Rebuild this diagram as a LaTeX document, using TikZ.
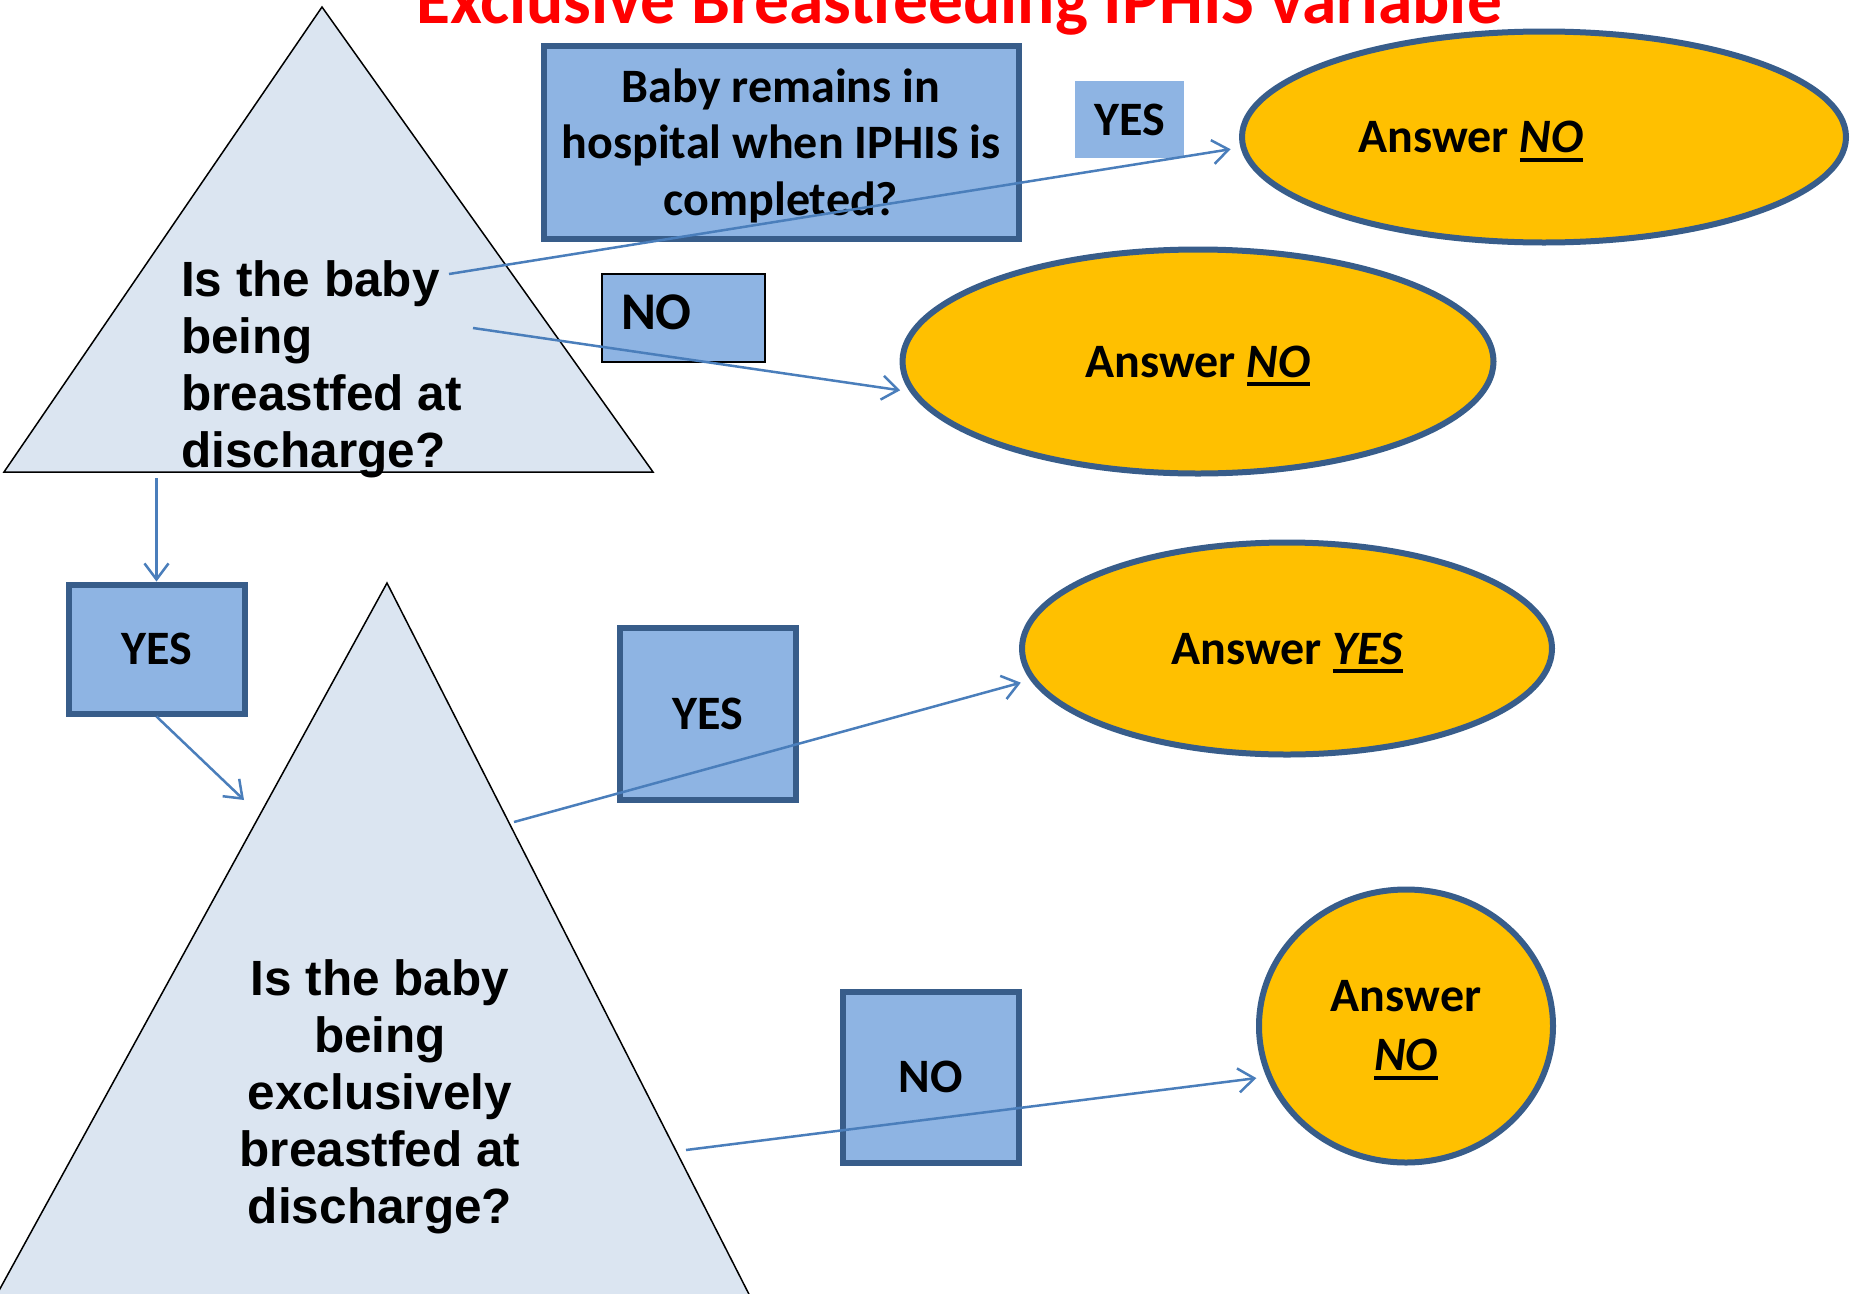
\documentclass[tikz,border=0pt]{standalone}
\usepackage{fontspec}
\newfontfamily\calfont{Carlito}
\newfontfamily\arfont{Liberation Sans}
\usetikzlibrary{arrows.meta,shapes.geometric}
\definecolor{boxfill}{HTML}{8EB4E3}
\definecolor{boxline}{HTML}{385D8A}
\definecolor{ellfill}{HTML}{FFC000}
\definecolor{trifill}{HTML}{DBE5F1}
\definecolor{arrowc}{HTML}{4A7EBB}
\newcommand\ansul[1]{\setbox0\hbox{#1}\makebox[0pt][l]{\raisebox{-9pt}[0pt][0pt]{\rule{\wd0}{4pt}}}\box0}
\begin{document}
\begin{tikzpicture}[x=1pt,y=-1pt,
  calib/.style={font=\calfont\bfseries\fontsize{48}{56.5}\selectfont},
  bluebox/.style={draw=boxline, line width=6pt, fill=boxfill, inner sep=0pt, align=center, calib},
  flatlabel/.style={fill=boxfill, inner sep=0pt, calib},
  thinbox/.style={draw=black, line width=2pt, fill=boxfill, inner sep=0pt},
  answer/.style={ellipse, draw=boxline, line width=6pt, fill=ellfill, inner sep=0pt, align=center, calib},
  tri/.style={draw=black, line width=1.5pt, fill=trifill},
  trilabel/.style={font=\arfont\bfseries\fontsize{49.5}{57}\selectfont, inner sep=0pt},
  flow/.style={draw=arrowc, line width=2.5pt, -{Straight Barb[length=16pt,width=24pt]}},
  toans/.style={flow, shorten >=10pt}]
\useasboundingbox (0,0) rectangle (1863,1293);
\clip (0,0) rectangle (1863,1293);
\fill[white] (0,0) rectangle (1863,1293);

% triangles
\draw[tri] (322,7) -- (653,472) -- (4,472) -- cycle;
\draw[tri] (387,583) -- (813,1420) -- (-72,1420) -- cycle;

% title
\node[font=\calfont\bfseries\fontsize{69.5}{80}\selectfont, text=red, anchor=base, inner sep=0pt] (title) at (959,23) {Exclusive Breastfeeding IPHIS variable};

% boxes
\node[bluebox, minimum width=475, minimum height=193, text depth=0pt] (b1) at (781,142) {Baby remains in\\hospital when IPHIS is\\completed?};
\node[flatlabel, minimum width=109, minimum height=77] (yl) at (1129.5,119.5) {YES};
\node[thinbox, minimum width=163, minimum height=88, text width=125, align=left, text depth=11.5pt, font=\calfont\bfseries\fontsize{53}{60}\selectfont] (n1) at (683.5,318) {NO};
\node[bluebox, minimum width=176, minimum height=129] (y2) at (156.5,649) {YES};
\node[bluebox, minimum width=176, minimum height=172] (y3) at (707.5,713.5) {YES};
\node[bluebox, minimum width=176, minimum height=171] (n3) at (930.5,1077) {NO};

% answers
\node[answer, minimum width=604, minimum height=211] (e1) at (1544,137) {Answer \ansul{\itshape NO}\hspace{146pt}};
\node[answer, minimum width=591, minimum height=224] (e2) at (1198,361.5) {Answer \ansul{\itshape NO}};
\node[answer, minimum width=530, minimum height=212] (e3) at (1287,648.5) {Answer \ansul{\itshape YES}};
\node[answer, minimum width=294, minimum height=273, font=\calfont\bfseries\fontsize{48}{59}\selectfont] (e4) at (1406,1026) {Answer\\\ansul{\itshape NO}};

% questions
\node[trilabel, anchor=west, align=left] (q1) at (181,369) {Is the baby\\being\\breastfed at\\discharge?};
\node[trilabel, align=center] (q2) at (380,1097) {Is the baby\\being\\exclusively\\breastfed at\\discharge?};

% connector ends
\coordinate (s1) at (449,274);
\coordinate (s2) at (473,328);
\coordinate (s3) at (156.5,478);
\coordinate (t4) at (244,800);
\coordinate (s5) at (514,822);
\coordinate (s6) at (686,1150);

% connectors
\draw[toans] (s1) -- (e1.182);
\draw[toans] (s2) -- (e2.186);
\draw[flow] (s3) -- (y2.north);
\draw[flow] (y2.south) -- (t4);
\draw[toans] (s5) -- (e3.187);
\draw[toans] (s6) -- (e4.200);
\end{tikzpicture}
\end{document}
